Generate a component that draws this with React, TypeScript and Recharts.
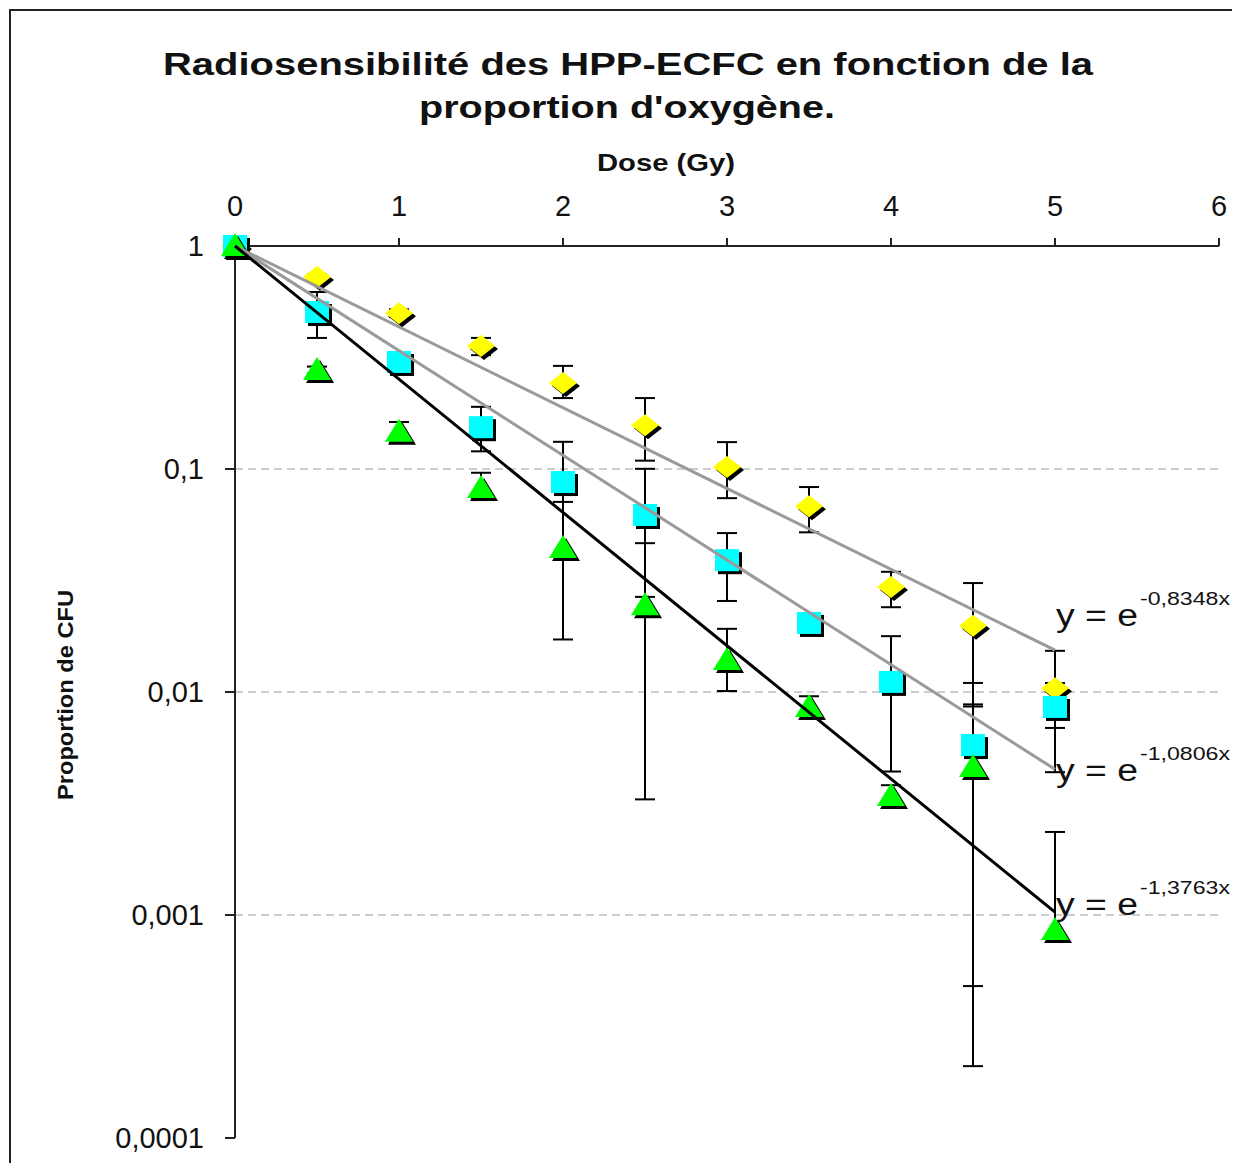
import { ScatterChart, Scatter, XAxis, YAxis, ErrorBar, ReferenceLine } from 'recharts';

// doses (Gy) and surviving fraction
const doses = [0, 0.5, 1, 1.5, 2, 2.5, 3, 3.5, 4, 4.5, 5];

const yellowValues = [1, 0.726, 0.5, 0.356, 0.243, 0.157, 0.102, 0.068, 0.0296, 0.0198, 0.0104];
const yellowErrLow = [0, 0.02, 0.02, 0.032, 0.035, 0.048, 0.028, 0.016, 0.0056, 0.011, 0.0035];
const yellowErrHigh = [0, 0.02, 0.02, 0.031, 0.047, 0.051, 0.03, 0.015, 0.005, 0.011, 0.0049];

const cyanValues = [1, 0.506, 0.302, 0.154, 0.0874, 0.0622, 0.039, 0.0204, 0.0111, 0.00578, 0.00857];
const cyanErrLow = [0, 0.119, 0.015, 0.034, 0.045, 0.0355, 0.0134, 0.002, 0.0067, 0.0053, 0.0042];
const cyanErrHigh = [0, 0.116, 0.015, 0.036, 0.045, 0.038, 0.0126, 0.002, 0.0067, 0.0052, 0.0024];

const greenValues = [1, 0.278, 0.147, 0.0822, 0.0442, 0.0245, 0.0139, 0.00857, 0.00342, 0.00461, 0.000857];
const greenErrLow = [0, 0.01, 0.0155, 0.008, 0.027, 0.0212, 0.0038, 0.001, 0.0004, 0.0044, 0.00005];
const greenErrHigh = [0, 0.01, 0.0155, 0.014, 0.027, 0.022, 0.0053, 0.001, 0.0004, 0.004, 0.0015];

// exponential fits shown on the chart: value at dose 0 and dose 5
const trendDoses = [0, 5];
const yellowTrend = [1, 0.0154];
const cyanTrend = [1, 0.0045];
const greenTrend = [1, 0.00103];
const trendLabels = ['-0,8348x', '-1,0806x', '-1,3763x'];

const xTicks = [0, 1, 2, 3, 4, 5, 6];
const yTicks = [1, 0.1, 0.01, 0.001, 0.0001];
const gridValues = [0.1, 0.01, 0.001];

const FONT = '"Liberation Sans", Arial, Helvetica, sans-serif';
const INK = '#111';

const toPoints = (vals: number[], low: number[], high: number[]) =>
  doses.map((d, i) => ({ x: d, y: vals[i], err: [low[i], high[i]] }));

const toTrend = (vals: number[]) => trendDoses.map((d, i) => ({ x: d, y: vals[i] }));

const yellowData = toPoints(yellowValues, yellowErrLow, yellowErrHigh);
const cyanData = toPoints(cyanValues, cyanErrLow, cyanErrHigh);
const greenData = toPoints(greenValues, greenErrLow, greenErrHigh);

const Nothing = () => <g />;

const Diamond = (props: any) => {
  const { cx, cy } = props;
  if (cx == null || cy == null) return null;
  const pts = (dx: number, dy: number) =>
    `${cx + dx},${cy - 11 + dy} ${cx + 14 + dx},${cy + dy} ${cx + dx},${cy + 11 + dy} ${cx - 14 + dx},${cy + dy}`;
  return (
    <g>
      <polygon points={pts(3, 3)} fill="#000" />
      <polygon points={pts(0, 0)} fill="#ffff00" />
    </g>
  );
};

const Square = (props: any) => {
  const { cx, cy } = props;
  if (cx == null || cy == null) return null;
  return (
    <g>
      <rect x={cx - 12 + 3} y={cy - 11 + 3} width={24} height={22} fill="#000" />
      <rect x={cx - 12} y={cy - 11} width={24} height={22} fill="#00ffff" />
    </g>
  );
};

const Triangle = (props: any) => {
  const { cx, cy } = props;
  if (cx == null || cy == null) return null;
  const pts = (dx: number, dy: number) =>
    `${cx + dx},${cy - 13 + dy} ${cx + 14 + dx},${cy + 10 + dy} ${cx - 14 + dx},${cy + 10 + dy}`;
  return (
    <g>
      <polygon points={pts(3, 3)} fill="#000" />
      <polygon points={pts(0, 0)} fill="#00ff00" />
    </g>
  );
};

const makeTrendShape = (label: string, dy: number) => (props: any) => {
  const { cx, cy, payload } = props;
  if (cx == null || cy == null || payload.x !== trendDoses[trendDoses.length - 1]) return <g />;
  return (
    <g fontFamily={FONT} fill={INK}>
      <text x={cx + 1} y={cy + dy} fontSize={31} textLength={82} lengthAdjust="spacingAndGlyphs">
        y = e
      </text>
      <text x={cx + 85} y={cy + dy - 21} fontSize={19} textLength={90} lengthAdjust="spacingAndGlyphs">
        {label}
      </text>
    </g>
  );
};

const XTick = (props: any) => {
  const { x, y, payload } = props;
  return (
    <text x={x} y={y} textAnchor="middle" fontFamily={FONT} fontSize={29} fill={INK}>
      {payload.value}
    </text>
  );
};

const YTick = (props: any) => {
  const { x, y, payload } = props;
  return (
    <text x={x} y={y} dy="0.36em" textAnchor="end" fontFamily={FONT} fontSize={29} fill={INK}>
      {String(payload.value).replace('.', ',')}
    </text>
  );
};

const W = 1230;
const H = 1155;

export default function App() {
  const axisLine = { stroke: '#222', strokeWidth: 2 };
  return (
    <div style={{ position: 'relative', width: W, height: H }}>
      <ScatterChart width={W} height={H} margin={{ top: 198, right: 19, bottom: 25, left: 137 }}>
        <XAxis
          type="number"
          dataKey="x"
          orientation="top"
          domain={[0, 6]}
          ticks={xTicks}
          height={40}
          tickSize={8}
          tickMargin={22}
          axisLine={axisLine}
          tickLine={axisLine}
          tick={<XTick />}
        />
        <YAxis
          type="number"
          dataKey="y"
          scale="log"
          domain={[0.0001, 1]}
          ticks={yTicks}
          width={90}
          tickSize={10}
          tickMargin={21}
          axisLine={axisLine}
          tickLine={axisLine}
          tick={<YTick />}
        />
        {gridValues.map((v) => (
          <ReferenceLine key={v} y={v} stroke="#bdbdbd" strokeWidth={1.5} strokeDasharray="8 5" />
        ))}

        {/* error bars sit under all the markers */}
        <Scatter data={yellowData} shape={Nothing} isAnimationActive={false}>
          <ErrorBar dataKey="err" direction="y" width={10} stroke="#000" strokeWidth={2} />
        </Scatter>
        <Scatter data={cyanData} shape={Nothing} isAnimationActive={false}>
          <ErrorBar dataKey="err" direction="y" width={10} stroke="#000" strokeWidth={2} />
        </Scatter>
        <Scatter data={greenData} shape={Nothing} isAnimationActive={false}>
          <ErrorBar dataKey="err" direction="y" width={10} stroke="#000" strokeWidth={2} />
        </Scatter>

        <Scatter data={yellowData} shape={Diamond} isAnimationActive={false} />
        <Scatter data={cyanData} shape={Square} isAnimationActive={false} />
        <Scatter data={greenData} shape={Triangle} isAnimationActive={false} />

        <Scatter
          data={toTrend(yellowTrend)}
          line={{ stroke: '#9a9a9a', strokeWidth: 3 }}
          shape={makeTrendShape(trendLabels[0], -24)}
          isAnimationActive={false}
        />
        <Scatter
          data={toTrend(cyanTrend)}
          line={{ stroke: '#9a9a9a', strokeWidth: 3 }}
          shape={makeTrendShape(trendLabels[1], 12)}
          isAnimationActive={false}
        />
        <Scatter
          data={toTrend(greenTrend)}
          line={{ stroke: '#000', strokeWidth: 3 }}
          shape={makeTrendShape(trendLabels[2], 3)}
          isAnimationActive={false}
        />
      </ScatterChart>

      <svg
        width={W}
        height={H}
        style={{ position: 'absolute', left: 0, top: 0, pointerEvents: 'none' }}
        fontFamily={FONT}
        fill={INK}
      >
        <path d={`M2,${H} L2,2 L1224,2`} fill="none" stroke="#222" strokeWidth={2} />
        <text x={620} y={67} textAnchor="middle" fontSize={32} fontWeight="bold" textLength={930} lengthAdjust="spacingAndGlyphs">
          Radiosensibilité des HPP-ECFC en fonction de la
        </text>
        <text x={619} y={110} textAnchor="middle" fontSize={32} fontWeight="bold" textLength={416} lengthAdjust="spacingAndGlyphs">
          proportion d'oxygène.
        </text>
        <text x={658} y={163} textAnchor="middle" fontSize={24} fontWeight="bold" textLength={138} lengthAdjust="spacingAndGlyphs">
          Dose (Gy)
        </text>
        <text
          x={65}
          y={687}
          textAnchor="middle"
          fontSize={22}
          fontWeight="bold"
          transform="rotate(-90, 65, 687)"
          textLength={210}
          lengthAdjust="spacingAndGlyphs"
        >
          Proportion de CFU
        </text>
      </svg>
    </div>
  );
}
